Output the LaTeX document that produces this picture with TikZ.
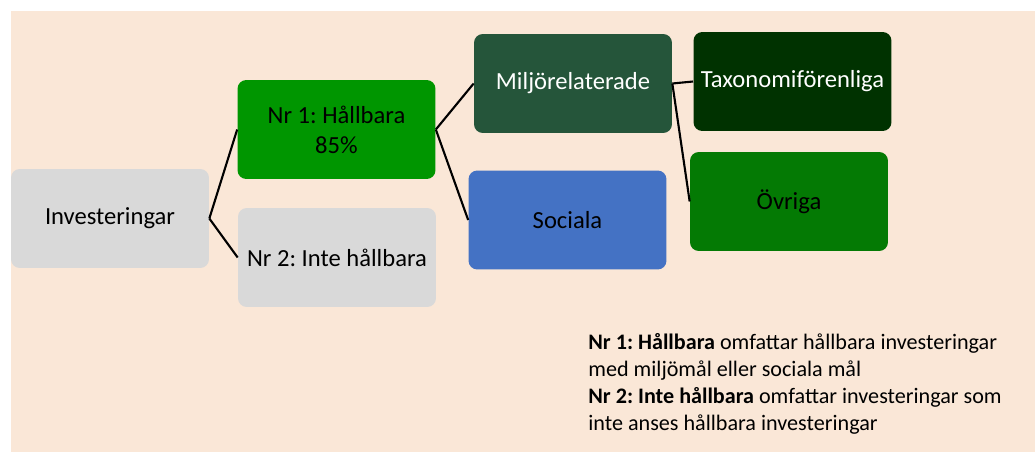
\documentclass[tikz,border=0pt]{standalone}
\usepackage{fontspec}
\setmainfont{Carlito}
\frenchspacing

\definecolor{peach}{RGB}{250,231,215}
\definecolor{boxgray}{RGB}{217,217,217}
\definecolor{sustgreen}{RGB}{0,150,0}
\definecolor{envgreen}{RGB}{37,85,58}
\definecolor{taxgreen}{RGB}{0,50,0}
\definecolor{socblue}{RGB}{68,114,196}
\definecolor{othgreen}{RGB}{4,122,4}

\begin{document}
\begin{tikzpicture}[x = 0.02cm, y = -0.02cm, font = {\fontsize{14pt}{17}\selectfont},
	box/.style = {rectangle, rounded corners = 5pt, minimum width = 3.96cm, minimum height = 1.98cm, align = center, inner sep = 2pt},
	link/.style = {line width = 1.2pt, black}]
\useasboundingbox (0,0) rectangle (1035,452);
\fill[peach] (11,11) rectangle (1035,452);

\node[box, fill = boxgray] (INV) at (110, 218.5) {Investeringar};
\node[box, fill = sustgreen] (NR1) at (336.5, 129.5) {Nr 1: Hållbara \\ 85\%};
\node[box, fill = boxgray] (NR2) at (337, 257.5) {Nr 2: Inte hållbara};
\node[box, fill = envgreen, text = white] (MIL) at (573, 83.5) {Miljörelaterade};
\node[box, fill = taxgreen, text = white] (TAX) at (792.5, 81.5) {Taxonomiförenliga};
\node[box, fill = socblue] (SOC) at (567.5, 220) {Sociala};
\node[box, fill = othgreen] (OVR) at (789, 201.5) {Övriga};

\node[anchor = north west, inner sep = 0pt, align = left, font = {\fontsize{12.6pt}{15.3}\selectfont}] (NOTE) at (588, 333)
	{\textbf{Nr 1: Hållbara} omfattar hållbara investeringar \\ med miljömål eller sociala mål \\
	 \textbf{Nr 2: Inte hållbara} omfattar investeringar som \\ inte anses hållbara investeringar};

\draw[link] (INV.east) -- (NR1.west);
\draw[link] (INV.east) -- (NR2.west);
\draw[link] (NR1.east) -- (MIL.west);
\draw[link] (NR1.east) -- (SOC.west);
\draw[link] (MIL.east) -- (TAX.west);
\draw[link] (MIL.east) -- (OVR.west);
\end{tikzpicture}
\end{document}
